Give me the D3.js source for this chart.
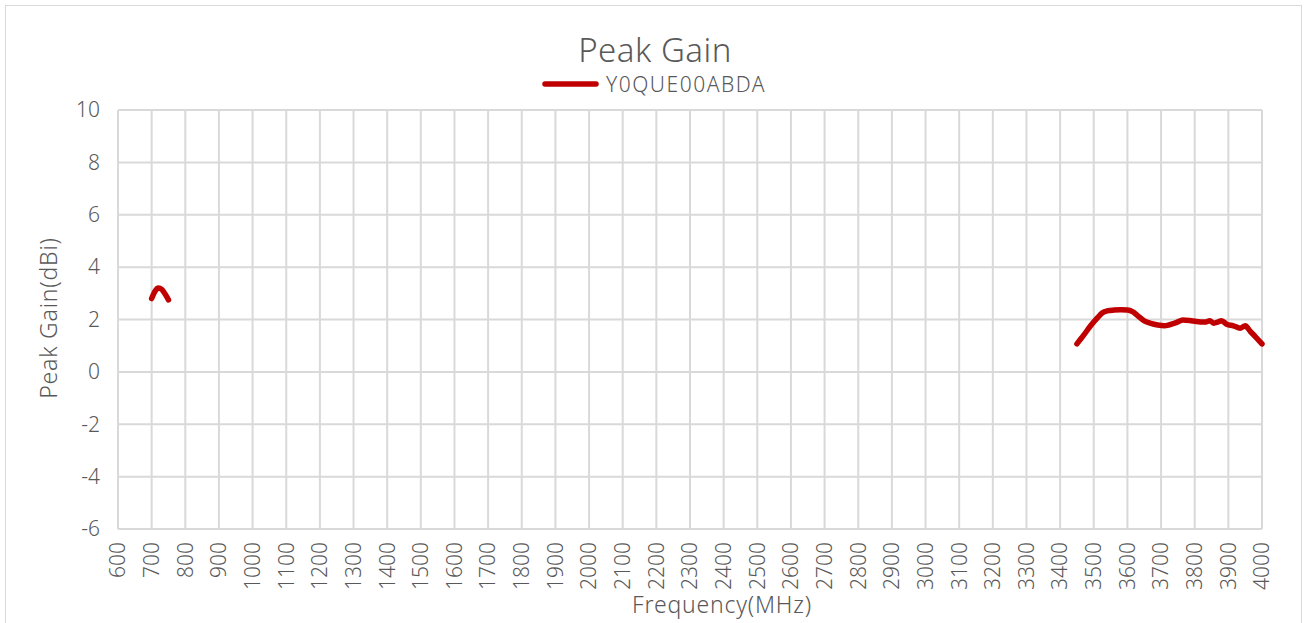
<!DOCTYPE html>
<html>
<head>
<meta charset="utf-8">
<script src="https://cdn.jsdelivr.net/npm/d3@7"></script>
<style>
  body { margin: 0; background: #fff; }
  text { font-family: "Noto Sans", "Open Sans", sans-serif; font-weight: 300; fill: #595959; }
</style>
</head>
<body>
<script>
const width = 1306;
const height = 623;
const marginTop = 110;
const marginRight = 44;
const marginBottom = 94;
const marginLeft = 118;

const seriesName = "Y0QUE00ABDA";
// low band segment
const lowFreq = [700, 710, 720, 730, 740, 750];
const lowGain = [2.8, 3.08, 3.2, 3.15, 2.97, 2.75];
// high band segment
const highFreq = [3450, 3470, 3490, 3510, 3525, 3540, 3560, 3580, 3600, 3615, 3630, 3650, 3670, 3690, 3710, 3725, 3745, 3765, 3785, 3805, 3830, 3845, 3857, 3868, 3880, 3895, 3915, 3935, 3950, 3965, 3980, 4000];
const highGain = [1.07, 1.4, 1.75, 2.05, 2.25, 2.33, 2.36, 2.37, 2.36, 2.3, 2.15, 1.95, 1.85, 1.79, 1.76, 1.8, 1.88, 1.98, 1.96, 1.92, 1.9, 1.95, 1.86, 1.9, 1.95, 1.82, 1.76, 1.67, 1.76, 1.55, 1.35, 1.07];
const xTicks = d3.range(600, 4001, 100);
const yTicks = [-6, -4, -2, 0, 2, 4, 6, 8, 10];

const x = d3.scaleLinear().domain([600, 4000]).range([marginLeft, width - marginRight]);
const y = d3.scaleLinear().domain([-6, 10]).range([height - marginBottom, marginTop]);

const svg = d3.select("body").append("svg")
  .attr("width", width)
  .attr("height", height);

// chart border
svg.append("rect")
  .attr("x", 5.5).attr("y", 5.5)
  .attr("width", 1296).attr("height", 640)
  .attr("fill", "none").attr("stroke", "#d9d9d9");

// grid
svg.append("g")
  .selectAll("line")
  .data(xTicks)
  .join("line")
    .attr("x1", d => x(d)).attr("x2", d => x(d))
    .attr("y1", y(10)).attr("y2", y(-6))
    .attr("stroke", "#d9d9d9").attr("stroke-width", 2);

svg.append("g")
  .selectAll("line")
  .data(yTicks)
  .join("line")
    .attr("x1", x(600)).attr("x2", x(4000))
    .attr("y1", d => y(d)).attr("y2", d => y(d))
    .attr("stroke", "#d9d9d9").attr("stroke-width", 2);

// y axis labels
svg.append("g")
  .selectAll("text")
  .data(yTicks)
  .join("text")
    .attr("x", marginLeft - 18)
    .attr("y", d => y(d))
    .attr("dy", "0.35em")
    .attr("text-anchor", "end")
    .style("font-size", "21px")
    .text(d => d);

// x axis labels
svg.append("g")
  .selectAll("text")
  .data(xTicks)
  .join("text")
    .attr("transform", d => `translate(${x(d)},${height - marginBottom + 13}) rotate(-90)`)
    .attr("dy", "0.35em")
    .attr("text-anchor", "end")
    .style("font-size", "21px")
    .text(d => d);

// titles
svg.append("text")
  .attr("x", 655).attr("y", 62)
  .attr("text-anchor", "middle")
  .style("font-size", "33px")
  .style("letter-spacing", "0.5px")
  .text("Peak Gain");

svg.append("text")
  .attr("x", 722).attr("y", 613)
  .attr("text-anchor", "middle")
  .style("font-size", "23px")
  .style("letter-spacing", "0.8px")
  .text("Frequency(MHz)");

svg.append("text")
  .attr("transform", `translate(57,${318}) rotate(-90)`)
  .attr("text-anchor", "middle")
  .style("font-size", "23px")
  .style("letter-spacing", "0.8px")
  .text("Peak Gain(dBi)");

// legend
svg.append("line")
  .attr("x1", 545).attr("x2", 596)
  .attr("y1", 84).attr("y2", 84)
  .attr("stroke", "#c00000").attr("stroke-width", 5.5)
  .attr("stroke-linecap", "round");
svg.append("text")
  .attr("x", 606).attr("y", 92)
  .style("font-size", "21px")
  .style("letter-spacing", "1.5px")
  .text(seriesName);

// series
const line = d3.line()
  .x(d => x(d[0]))
  .y(d => y(d[1]))
  .curve(d3.curveMonotoneX);

[[lowFreq, lowGain], [highFreq, highGain]].forEach(([f, g]) => {
  svg.append("path")
    .datum(f.map((v, i) => [v, g[i]]))
    .attr("fill", "none")
    .attr("stroke", "#c00000")
    .attr("stroke-width", 5.5)
    .attr("stroke-linecap", "round")
    .attr("stroke-linejoin", "round")
    .attr("d", line);
});
</script>
</body>
</html>
